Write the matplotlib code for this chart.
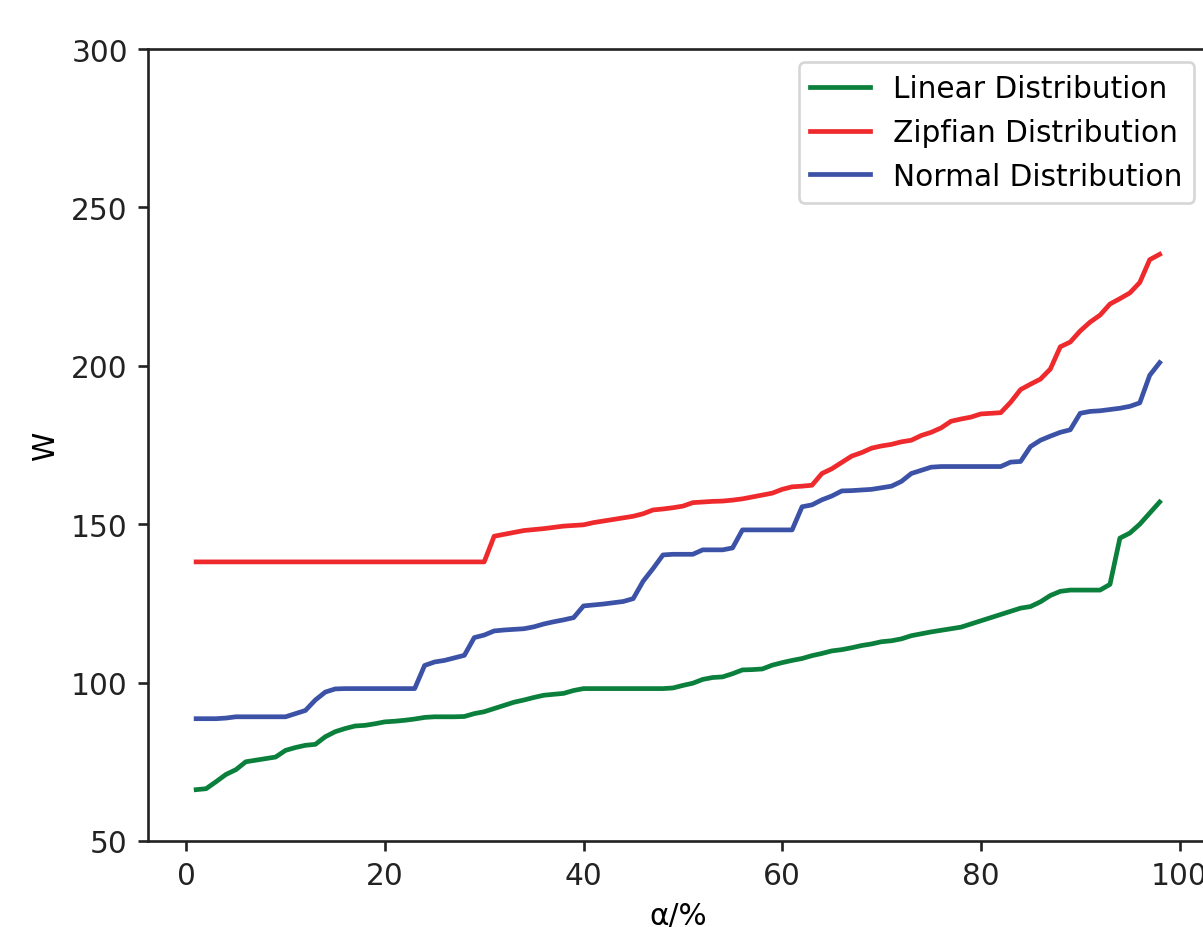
import numpy as np
import matplotlib
matplotlib.use("Agg")
import matplotlib.pyplot as plt

x = np.arange(1, 99)

linear = [66.2, 66.5, 68.7, 71.0, 72.5, 75.0, 75.5, 76.0, 76.5, 78.6,
          79.5, 80.2, 80.5, 82.9, 84.5, 85.5, 86.3, 86.5, 87.0, 87.6,
          87.8, 88.1, 88.5, 89.0, 89.2, 89.2, 89.2, 89.3, 90.2, 90.8,
          91.8, 92.8, 93.8, 94.5, 95.3, 96.0, 96.3, 96.6, 97.5, 98.1,
          98.1, 98.1, 98.1, 98.1, 98.1, 98.1, 98.1, 98.1, 98.3, 99.1,
          99.8, 101.0, 101.6, 101.8, 102.8, 104.0, 104.1, 104.3, 105.5, 106.3,
          107.0, 107.6, 108.5, 109.2, 110.0, 110.4, 111.0, 111.7, 112.2, 112.9,
          113.2, 113.8, 114.8, 115.4, 116.0, 116.5, 117.0, 117.5, 118.5, 119.5,
          120.5, 121.5, 122.5, 123.5, 124.0, 125.5, 127.5, 128.8, 129.2, 129.2,
          129.2, 129.2, 131.0, 145.6, 147.2, 150.0, 153.5, 157.0]

zipfian = [138.1] * 30 + [
    146.2, 146.8, 147.4, 148.0, 148.3, 148.6, 149.0, 149.4, 149.6, 149.8,
    150.5, 151.0, 151.5, 152.0, 152.5, 153.3, 154.5, 154.8, 155.2, 155.7,
    156.8, 157.0, 157.2, 157.3, 157.6, 158.0, 158.6, 159.2, 159.8, 161.0,
    161.8, 162.0, 162.3, 166.0, 167.5, 169.5, 171.5, 172.6, 174.0, 174.7,
    175.2, 176.0, 176.5, 178.0, 179.0, 180.4, 182.5, 183.2, 183.8, 184.8,
    185.0, 185.2, 188.5, 192.5, 194.2, 195.8, 199.0, 206.0, 207.5, 211.0,
    213.8, 216.0, 219.5, 221.2, 223.0, 226.3, 233.5, 235.2]

normal = [88.6, 88.6, 88.6, 88.8, 89.2, 89.2, 89.2, 89.2, 89.2, 89.2,
          90.2, 91.2, 94.5, 97.0, 98.0, 98.1, 98.1, 98.1, 98.1, 98.1,
          98.1, 98.1, 98.1, 105.4, 106.5, 107.0, 107.8, 108.6, 114.2, 115.0,
          116.3, 116.6, 116.8, 117.0, 117.6, 118.5, 119.2, 119.8, 120.5, 124.2,
          124.5, 124.8, 125.2, 125.6, 126.5, 132.0, 136.0, 140.3, 140.5, 140.5,
          140.5, 141.9, 141.9, 141.9, 142.5, 148.2, 148.2, 148.2, 148.2, 148.2,
          148.2, 155.5, 156.1, 157.7, 158.9, 160.5, 160.6, 160.8, 161.0, 161.5,
          162.0, 163.5, 166.0, 167.0, 168.0, 168.2, 168.2, 168.2, 168.2, 168.2,
          168.2, 168.2, 169.6, 169.8, 174.5, 176.5, 177.8, 179.0, 179.8, 185.0,
          185.6, 185.8, 186.2, 186.6, 187.2, 188.3, 197.0, 201.0]

fig = plt.figure(figsize=(12.03, 9.28), dpi=100)
ax = fig.add_axes([0.123, 0.0927, 0.881, 0.8534])

lw = 3.4
ax.plot(x, linear, color="#0b7f3c", lw=lw, label="Linear Distribution")
ax.plot(x, zipfian, color="#ee2a2d", lw=lw, label="Zipfian Distribution")
ax.plot(x, normal, color="#3c52a6", lw=lw, label="Normal Distribution")

fs = 21.3
ax.set_ylim(50, 300)
ax.set_yticks([50, 100, 150, 200, 250, 300])
ax.set_xticks([0, 20, 40, 60, 80, 100])
ax.set_xlabel("α/%", fontsize=fs, labelpad=8)
ax.set_ylabel("W", fontsize=fs, labelpad=8)

for s in ax.spines.values():
    s.set_linewidth(1.9)
    s.set_color("#222222")
ax.tick_params(labelsize=fs, width=1.9, length=7.5, pad=7, colors="#222222")

leg = ax.legend(loc="upper right", fontsize=fs, borderaxespad=0.45)
leg.get_frame().set_linewidth(1.9)

fig.savefig("out.png", dpi=100)
